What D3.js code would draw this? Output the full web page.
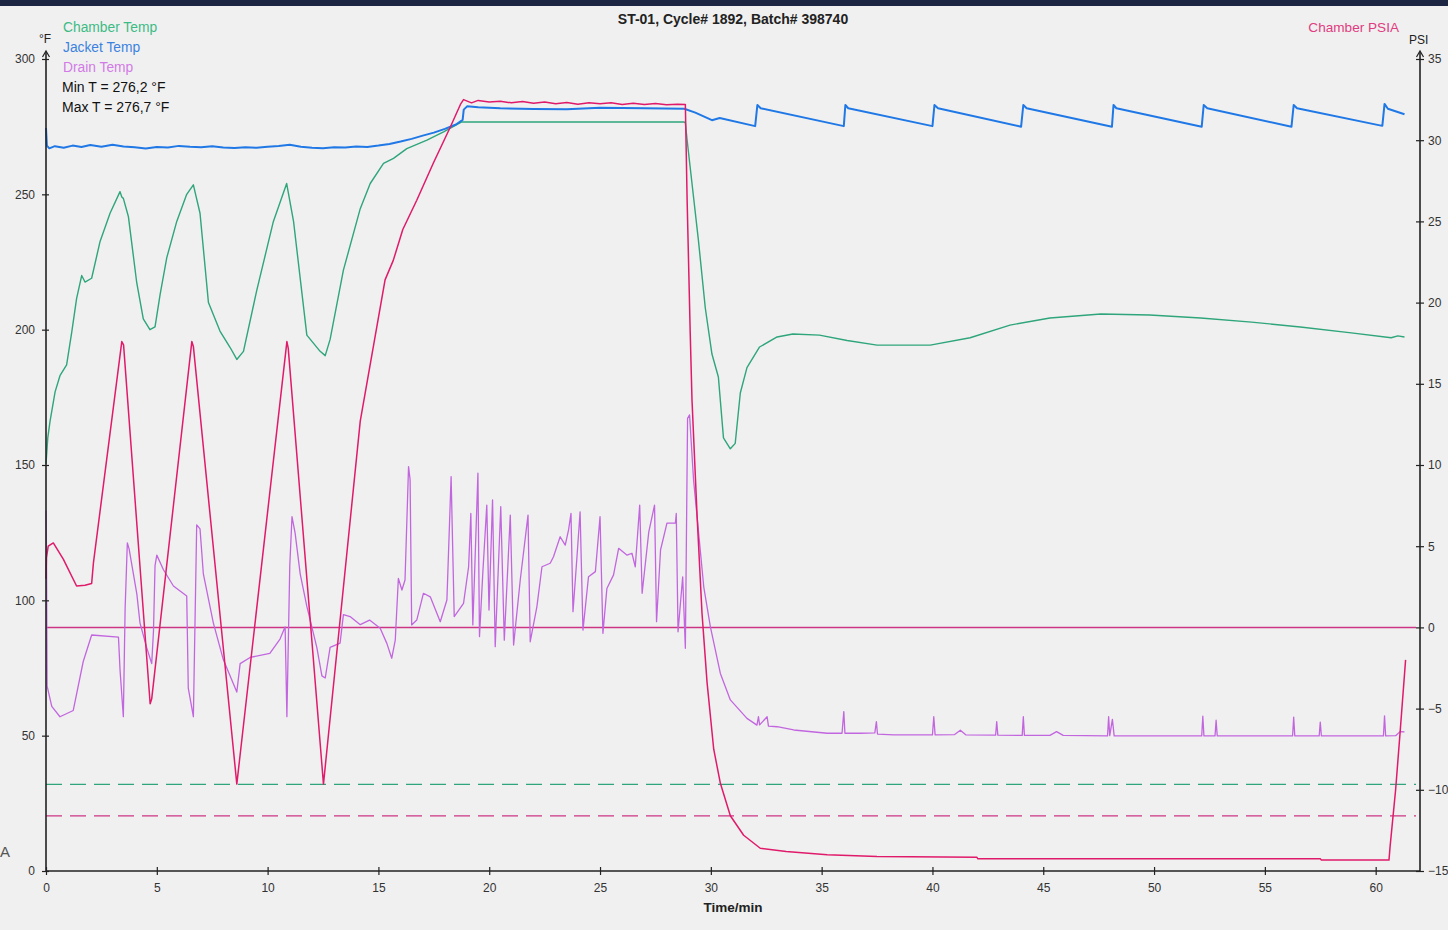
<!DOCTYPE html>
<html><head><meta charset="utf-8">
<script src="https://cdn.jsdelivr.net/npm/d3@7"></script>
<style>
html,body{margin:0;padding:0;background:#f0f0f0;}
svg{display:block;font-family:"Liberation Sans",Arial,sans-serif;}
</style></head>
<body><svg id="c" width="1448" height="930"></svg>
<script>
// ---------- DATA ----------
const title = "ST-01, Cycle# 1892, Batch# 398740";
const xTicks = [0,5,10,15,20,25,30,35,40,45,50,55,60];
const leftTicks = [0,50,100,150,200,250,300];
const rightTicks = [-15,-10,-5,0,5,10,15,20,25,30,35];
const legendLeft = ["Chamber Temp","Jacket Temp","Drain Temp"];
const statLines = ["Min T = 276,2 \u00B0F","Max T = 276,7 \u00B0F"];
const psiZeroLine = 0;      // PSI
const greenLimit = 32;      // °F
const pinkLimit = -11.6;    // PSI

// [minutes, °F]
const chamberTemp = [[0,150.4],[0.08,160],[0.18,166],[0.41,177],[0.63,183],[0.93,187],[1.16,199],[1.38,211.5],[1.61,220],[1.76,217.6],[2.06,219],[2.44,232.6],[2.89,243],[3.34,251],[3.42,249],[3.49,248.5],[3.72,241.7],[4.09,217.6],[4.39,204],[4.69,200],[4.92,201],[5.15,213],[5.45,226.6],[5.9,240],[6.35,250],[6.65,253.5],[6.95,243],[7.33,210],[7.85,199.5],[8.31,193.4],[8.61,189],[8.91,192],[9.51,214.5],[10.26,240],[10.86,254],[11.17,240],[11.77,198],[12.37,192],[12.6,190.4],[12.82,196.4],[13.42,222],[14.18,244.7],[14.63,254],[15.23,261.4],[15.68,263.3],[16.28,266.9],[17.19,270],[17.94,273.1],[18.74,276.7],[28.8,276.7],[28.85,276.4],[28.93,270],[29.15,254],[29.44,233],[29.75,208],[30.05,191],[30.34,182.5],[30.57,160],[30.88,156],[31.1,158],[31.33,176.6],[31.63,186],[32.2,193.6],[32.99,197.3],[33.7,198.4],[34.9,198],[36.15,196],[37.5,194.3],[38.55,194.3],[39.9,194.3],[41.7,197],[43.5,201.7],[45.3,204.3],[47.6,205.8],[49.8,205.4],[52.1,204.3],[54.4,202.8],[56.6,201],[58.9,198.8],[60.7,197],[61.0,197.7],[61.3,197.3]];

const jacketTemp = [[0,274.5],[0.04,268],[0.15,267],[0.4,267.8],[0.8,267.2],[1.2,268],[1.6,267.5],[2.0,268.2],[2.5,267.6],[3.0,268.3],[3.5,267.7],[4.0,267.4],[4.5,266.9],[5.0,267.5],[5.5,267.3],[6.0,267.9],[6.5,267.6],[7.0,267.4],[7.5,267.8],[8.0,267.3],[8.5,267.1],[9.0,267.4],[9.5,267.2],[10.0,267.6],[10.5,267.9],[11.0,268.3],[11.5,267.6],[12.0,267.2],[12.5,267.0],[13.0,267.4],[13.5,267.3],[14.0,267.7],[14.5,267.5],[15.0,268],[15.5,268.6],[16.0,269.5],[16.5,270.5],[17.0,271.7],[17.5,272.8],[18.0,274.2],[18.5,275.8],[18.8,277.5],[18.85,281.3],[19.0,282.5],[19.5,282.2],[20.5,281.8],[22,281.5],[23.5,281.4],[25,282.0],[27,281.8],[28.8,281.6],[29.3,280.2],[30.05,277.4],[30.4,278.2],[32.0,275.2],[32.1,283],[32.25,281.8],[36.0,275.2],[36.07,283],[36.2,281.8],[40.0,275.2],[40.09,283],[40.25,281.8],[44.0,275.0],[44.1,283],[44.25,281.8],[48.1,275.0],[48.17,283],[48.3,281.8],[52.15,275.0],[52.24,283],[52.4,281.8],[56.2,275.0],[56.3,283],[56.45,281.8],[60.3,275.3],[60.4,283.4],[60.55,281.6],[61.3,279.6]];

const drainTemp = [[0,133.2],[0.02,120],[0.05,68.3],[0.26,60.8],[0.63,57],[1.23,59.3],[1.68,77.4],[2.06,87.2],[3.27,86.4],[3.34,74.4],[3.49,57],[3.57,97],[3.67,121.2],[3.75,119],[4.1,102.3],[4.24,91.7],[4.54,82.6],[4.77,76.6],[4.85,88.7],[4.92,112.8],[5.0,116.7],[5.3,111.3],[5.75,105.3],[6.35,101.6],[6.42,67.6],[6.65,57],[6.8,127.9],[6.95,126.4],[7.1,109.8],[7.55,91.7],[8.0,78.1],[8.46,69.1],[8.61,66.1],[8.76,76.6],[9.21,78.9],[10.1,80.4],[10.56,85.7],[10.79,90.2],[10.87,57],[11.0,112.8],[11.1,130.9],[11.24,124.9],[11.47,109.8],[11.77,97.8],[12.22,82.6],[12.45,72.1],[12.6,71.3],[12.82,82.6],[13.27,84.2],[13.42,94.7],[13.72,94.0],[14.18,91.0],[14.6,92.7],[15.08,89.7],[15.38,84.1],[15.6,78.6],[15.76,85.3],[15.9,108.1],[16.06,103.8],[16.2,107.5],[16.36,149.4],[16.43,144.5],[16.5,90.9],[16.73,92.7],[17.03,102.6],[17.34,101.3],[17.79,92.1],[18.09,100.1],[18.28,145.7],[18.42,94],[18.84,98.9],[19.07,112.4],[19.17,132.1],[19.26,90.9],[19.37,117.4],[19.49,147],[19.56,86.6],[19.71,110],[19.89,135.2],[19.99,96.4],[20.15,137.1],[20.27,82.9],[20.52,134.6],[20.68,85.3],[20.95,131.5],[21.1,83.5],[21.4,107.5],[21.75,131.5],[21.85,84.7],[22.15,97.6],[22.38,112.4],[22.75,113.7],[22.9,116.1],[23.2,123.5],[23.43,120.4],[23.58,126],[23.69,132.1],[23.78,95.8],[23.96,116.1],[24.1,132.7],[24.23,89],[24.48,108.7],[24.79,110.6],[25.0,130.9],[25.13,87.8],[25.31,104.4],[25.61,109.4],[25.84,119.2],[26.22,116.7],[26.44,117.4],[26.59,112.4],[26.79,135.2],[26.9,102.6],[27.2,125.3],[27.46,135.2],[27.55,92.1],[27.73,118.6],[28.02,128.5],[28.4,128.5],[28.44,132.1],[28.52,88.4],[28.73,108.7],[28.85,82.3],[28.95,167.2],[29.04,168.5],[29.22,144.5],[29.45,124.8],[29.68,105],[29.98,90.2],[30.43,73],[30.88,63.2],[31.63,56.4],[32.08,53.9],[32.15,57],[32.2,54],[32.54,57],[32.6,53.5],[32.99,53.3],[33.74,52.1],[35.25,50.9],[35.92,50.9],[36.0,58.9],[36.05,50.9],[36.75,50.9],[37.4,51],[37.47,55.2],[37.52,50.6],[38.25,50.3],[40.0,50.3],[40.06,57],[40.12,50.3],[41.0,50.4],[41.26,52],[41.5,50.3],[42.85,50.2],[42.9,55.2],[42.95,50.2],[44.05,50.1],[44.1,57],[44.15,50.1],[45.3,50.1],[45.6,51.5],[45.9,50.1],[47.9,49.9],[47.95,57],[48.0,50],[48.12,56],[48.2,49.9],[52.15,49.9],[52.2,57.2],[52.25,49.9],[52.75,49.9],[52.8,55.7],[52.85,49.9],[56.25,49.9],[56.3,56.8],[56.35,49.9],[57.45,49.9],[57.5,55],[57.55,49.9],[60.35,49.9],[60.4,57.3],[60.45,49.9],[60.9,50],[61.1,51.5],[61.3,51.4]];

// [minutes, PSI]
const chamberPSIA = [[0,3.0],[0.02,4.3],[0.1,5.0],[0.33,5.2],[0.78,4.2],[1.38,2.55],[1.76,2.6],[2.06,2.7],[2.14,3.97],[3.42,17.6],[3.5,17.4],[4.7,-4.7],[4.77,-4.4],[6.58,17.6],[6.65,17.3],[8.61,-9.65],[10.87,17.6],[10.93,17.2],[12.52,-9.65],[14.18,12.7],[15.3,21.4],[15.67,22.6],[16.1,24.5],[16.73,26.3],[17.48,28.6],[18.24,30.8],[18.7,32.2],[18.84,32.5],[19.2,32.3],[19.5,32.45],[20,32.35],[20.5,32.4],[21,32.3],[21.5,32.38],[22,32.28],[22.5,32.35],[23,32.25],[23.5,32.32],[24,32.22],[24.5,32.3],[25,32.25],[25.5,32.3],[26,32.2],[26.5,32.28],[27,32.2],[27.5,32.26],[28,32.18],[28.5,32.22],[28.85,32.2],[28.93,26.3],[29.07,18.1],[29.15,14],[29.38,6.85],[29.6,0.9],[29.83,-3.4],[30.13,-7.5],[30.43,-9.6],[30.88,-11.6],[31.48,-12.8],[32.23,-13.6],[33.4,-13.8],[35.25,-14.0],[37.5,-14.1],[42.0,-14.15],[42.05,-14.25],[57.5,-14.25],[57.55,-14.33],[60.6,-14.33],[60.65,-13.5],[60.9,-10],[61.1,-6.5],[61.35,-2.0]];

// ---------- DRAW ----------
const svg = d3.select("#c");
const W = 1448, H = 930;
const x = d3.scaleLinear([0,62],[46,1420]);
const yL = d3.scaleLinear([0,300],[871,59]);
const yR = d3.scaleLinear([-15,35],[871,59]);

const C = {green:"#2ea57a", blue:"#1f78e6", drain:"#c266df", psia:"#e01a6a", zero:"#cc3584",
  greenTxt:"#3dbb84", blueTxt:"#3b82e0", drainTxt:"#d27ae6", psiaTxt:"#e03c80"};

svg.append("rect").attr("width",W).attr("height",H).attr("fill","#f0f0f0");
svg.append("rect").attr("width",W).attr("height",6).attr("fill","#1c2541");

// reference lines
const x0 = x(0), x1 = x(62);
svg.append("line").attr("x1",x0).attr("x2",1416).attr("y1",yR(psiZeroLine)).attr("y2",yR(psiZeroLine))
  .attr("stroke",C.zero).attr("stroke-width",1.5);
svg.append("line").attr("x1",x0).attr("x2",1416).attr("y1",yL(greenLimit)).attr("y2",yL(greenLimit))
  .attr("stroke",C.green).attr("stroke-width",1.3).attr("stroke-dasharray","16,8");
svg.append("line").attr("x1",x0).attr("x2",1416).attr("y1",yR(pinkLimit)).attr("y2",yR(pinkLimit))
  .attr("stroke",C.zero).attr("stroke-width",1.3).attr("stroke-dasharray","16,8");

const lineL = d3.line().x(d=>x(d[0])).y(d=>yL(d[1]));
const lineR = d3.line().x(d=>x(d[0])).y(d=>yR(d[1]));

svg.append("path").datum(drainTemp).attr("d",lineL).attr("fill","none").attr("stroke",C.drain).attr("stroke-width",1.3).attr("stroke-linejoin","round");
svg.append("path").datum(chamberTemp).attr("d",lineL).attr("fill","none").attr("stroke",C.green).attr("stroke-width",1.4).attr("stroke-linejoin","round");
svg.append("path").datum(jacketTemp).attr("d",lineL).attr("fill","none").attr("stroke",C.blue).attr("stroke-width",2).attr("stroke-linejoin","round");
svg.append("path").datum(chamberPSIA).attr("d",lineR).attr("fill","none").attr("stroke",C.psia).attr("stroke-width",1.5).attr("stroke-linejoin","round");

// axes
const axisCol = "#222";
const fontSz = "12px";
const gx = svg.append("g").attr("transform",`translate(0,${yL(0)})`)
  .call(d3.axisBottom(x).tickValues(xTicks).tickSizeInner(4).tickSizeOuter(0).tickPadding(8));
gx.select(".domain").remove();
gx.selectAll(".tick line").attr("y1",-4).attr("y2",4).attr("stroke",axisCol).attr("stroke-width",1.2);
gx.selectAll(".tick text").attr("font-size",fontSz).attr("fill","#333").attr("font-family","Liberation Sans, Arial");

const gl = svg.append("g").attr("transform",`translate(${x0},0)`)
  .call(d3.axisLeft(yL).tickValues(leftTicks).tickSizeInner(4).tickSizeOuter(0).tickPadding(7));
gl.select(".domain").remove();
gl.selectAll(".tick line").attr("x1",-4).attr("x2",3).attr("stroke",axisCol).attr("stroke-width",1.2);
gl.selectAll(".tick text").attr("font-size",fontSz).attr("fill","#333").attr("font-family","Liberation Sans, Arial");

const gr = svg.append("g").attr("transform",`translate(${x1},0)`)
  .call(d3.axisRight(yR).tickValues(rightTicks).tickSizeInner(4).tickSizeOuter(0).tickPadding(4));
gr.select(".domain").remove();
gr.selectAll(".tick line").attr("x1",-4).attr("x2",4).attr("stroke",axisCol).attr("stroke-width",1.2);
gr.selectAll(".tick text").attr("font-size",fontSz).attr("fill","#333").attr("font-family","Liberation Sans, Arial");

// axis lines with arrows
svg.append("line").attr("x1",x0).attr("x2",x1).attr("y1",yL(0)).attr("y2",yL(0)).attr("stroke",axisCol).attr("stroke-width",1.6);
[x0,x1].forEach(ax=>{
  svg.append("line").attr("x1",ax).attr("x2",ax).attr("y1",52).attr("y2",yL(0)).attr("stroke",axisCol).attr("stroke-width",1.6);
  svg.append("path").attr("d",`M${ax-3.5},${57} L${ax},${51} L${ax+3.5},${57}`).attr("fill","none").attr("stroke",axisCol).attr("stroke-width",1.2);
});

// texts
svg.append("text").attr("x",733).attr("y",24).attr("text-anchor","middle").attr("font-weight","bold").attr("font-size","14px").attr("fill","#222").text(title);
svg.append("text").attr("x",733).attr("y",912).attr("text-anchor","middle").attr("font-weight","bold").attr("font-size","13.5px").attr("fill","#222").text("Time/min");
svg.append("text").attr("x",39).attr("y",43).attr("font-size","12px").attr("fill","#222").text("\u00B0F");
svg.append("text").attr("x",1409).attr("y",44).attr("font-size","12px").attr("fill","#222").text("PSI");
svg.append("text").attr("x",1399).attr("y",32).attr("text-anchor","end").attr("font-size","13.6px").attr("fill",C.psiaTxt).text("Chamber PSIA");
const legCols = [C.greenTxt, C.blueTxt, C.drainTxt];
legendLeft.forEach((s,i)=>svg.append("text").attr("x",63).attr("y",32+i*20).attr("font-size","13.8px").attr("fill",legCols[i]).text(s));
statLines.forEach((s,i)=>svg.append("text").attr("x",62).attr("y",92+i*19.5).attr("font-size","14px").attr("fill","#111").text(s));
svg.append("text").attr("x",0).attr("y",857).attr("font-size","15px").attr("fill","#555").text("A");
</script>
</body></html>
